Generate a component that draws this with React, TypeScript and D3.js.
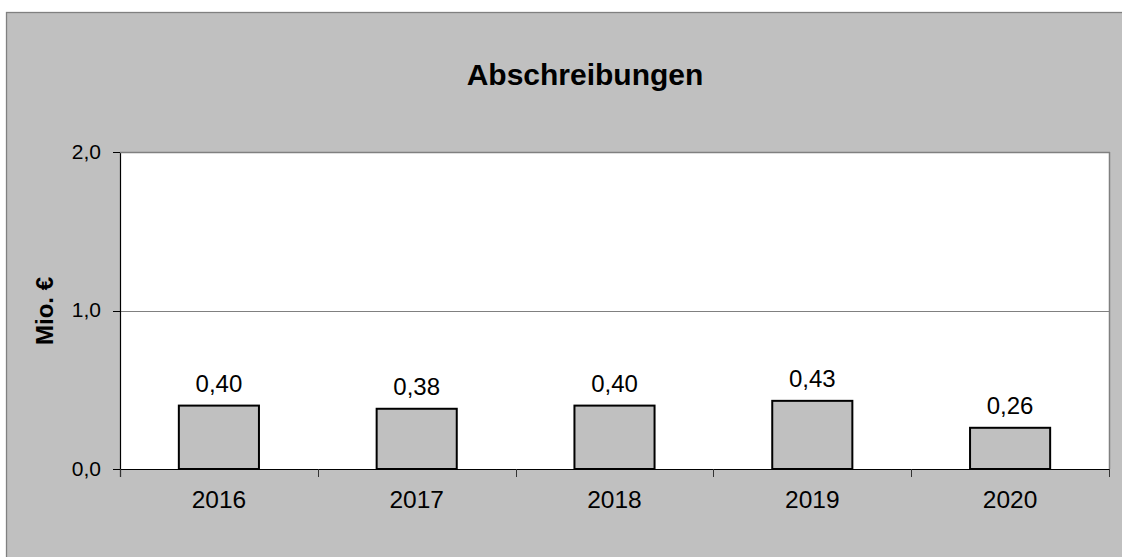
import React from "react";
import * as d3 from "d3";

const categories = ["2016", "2017", "2018", "2019", "2020"];
const values = [0.40, 0.38, 0.40, 0.43, 0.26];
const yTicks = [0, 1, 2];
const title = "Abschreibungen";
const yTitle = "Mio. €";

const W = 1122;
const H = 557;
const plot = { left: 120, right: 1109, top: 152, bottom: 469 };
const font = "Arial, 'Liberation Sans', Helvetica, sans-serif";

const fmt1 = (v: number) => d3.format(".1f")(v).replace(".", ",");
const fmt2 = (v: number) => d3.format(".2f")(v).replace(".", ",");

export default function App() {
  const x = d3
    .scaleBand<string>()
    .domain(categories)
    .range([plot.left, plot.right])
    .paddingInner(0)
    .paddingOuter(0);
  const y = d3.scaleLinear().domain([0, 2]).range([plot.bottom, plot.top]);
  const barW = x.bandwidth() * 0.405;
  const boundaries = categories.map((c) => x(c) as number).concat([plot.right]);

  return (
    <svg
      width={W}
      height={H}
      style={{ position: "absolute", left: 0, top: 0, display: "block" }}
    >
      <rect x={6.5} y={12.5} width={W + 10} height={H + 10} fill="#c0c0c0" stroke="#808080" strokeWidth={1.3} />
      <rect x={plot.left} y={plot.top} width={plot.right - plot.left} height={plot.bottom - plot.top} fill="#ffffff" />
      {/* gridlines */}
      {yTicks
        .filter((t) => t > 0)
        .map((t) => (
          <line key={"g" + t} x1={plot.left} x2={plot.right} y1={Math.round(y(t)) + 0.5} y2={Math.round(y(t)) + 0.5} stroke="#808080" strokeWidth={1} />
        ))}
      {/* right border */}
      <line x1={plot.right + 0.5} x2={plot.right + 0.5} y1={plot.top} y2={plot.bottom} stroke="#808080" strokeWidth={1.5} />
      {/* bars */}
      {categories.map((c, i) => {
        const cx = (x(c) as number) + x.bandwidth() / 2;
        return (
          <g key={c}>
            <rect x={cx - barW / 2} y={y(values[i])} width={barW} height={y(0) - y(values[i])} fill="#c0c0c0" stroke="#000" strokeWidth={2} />
            <text x={cx} y={y(values[i]) - 14} textAnchor="middle" fontFamily={font} fontSize={24} fill="#000">
              {fmt2(values[i])}
            </text>
            <text x={cx} y={507.5} textAnchor="middle" fontFamily={font} fontSize={24.5} fill="#000">
              {c}
            </text>
          </g>
        );
      })}
      {/* axes */}
      <line x1={plot.left + 0.5} x2={plot.left + 0.5} y1={plot.top} y2={plot.bottom + 8} stroke="#000" strokeWidth={1.2} />
      <line x1={plot.left - 7} x2={plot.right + 1} y1={plot.bottom + 0.5} y2={plot.bottom + 0.5} stroke="#000" strokeWidth={1.2} />
      {boundaries.map((b, i) => (
        <line key={"xt" + i} x1={Math.round(b) + 0.5} x2={Math.round(b) + 0.5} y1={plot.bottom} y2={plot.bottom + 8} stroke="#333" strokeWidth={1} />
      ))}
      {yTicks.map((t) => (
        <g key={"yt" + t}>
          <line x1={plot.left - 7} x2={plot.left} y1={Math.round(y(t)) + 0.5} y2={Math.round(y(t)) + 0.5} stroke="#000" strokeWidth={1} />
          <text x={101} y={y(t) + 6.5} textAnchor="end" fontFamily={font} fontSize={21} fill="#000">
            {fmt1(t)}
          </text>
        </g>
      ))}
      {/* top border grey */}
      <line x1={plot.left} x2={plot.right + 1} y1={plot.top + 0.5} y2={plot.top + 0.5} stroke="#808080" strokeWidth={1.5} />
      <text x={585} y={84.5} textAnchor="middle" fontFamily={font} fontSize={30} fontWeight="bold" fill="#000">
        {title}
      </text>
      <text transform={`translate(53, 311) rotate(-90)`} textAnchor="middle" fontFamily={font} fontSize={24} fontWeight="bold" fill="#000">
        {yTitle}
      </text>
    </svg>
  );
}
